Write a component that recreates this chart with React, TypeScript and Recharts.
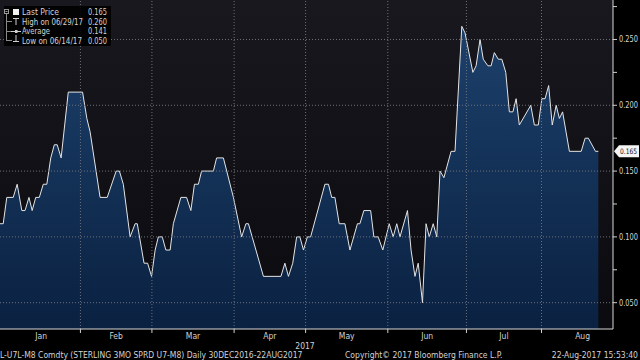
import React from 'react';
import { ComposedChart, Area, XAxis, YAxis, CartesianGrid, ReferenceLine } from 'recharts';

// trading-day index since 30 Dec 2016 (0) and the spread value at each vertex
const tradingDay = [
  0, 0.9, 1.9, 3.7, 4.8, 6.1, 7.0, 8.1, 9.0, 10.0, 11.0, 12.1, 13.1, 14.2, 15.2, 16.0, 17.1, 19.1, 23.1, 24.3,
  25.2, 28.0, 30.0, 32.5, 33.4, 34.5, 36.4, 37.8, 38.4, 40.3, 41.3, 42.4, 43.4, 44.3, 45.4, 46.4, 47.6, 48.5, 50.6, 52.2,
  53.4, 54.4, 55.5, 56.4, 59.7, 60.6, 62.5, 65.3, 67.6, 68.8, 69.5, 73.7, 78.6, 79.7, 80.7, 81.9, 83.0, 83.9, 84.9, 86.0,
  86.9, 90.9, 91.9, 92.8, 93.7, 94.9, 96.5, 97.9, 100.0, 100.7, 101.8, 103.7, 104.6, 105.8, 107.1, 108.9, 110.0, 111.0, 111.9, 114.0,
  115.0, 116.1, 117.0, 118.2, 119.2, 120.1, 121.2, 122.2, 123.1, 124.2, 126.2, 127.3, 129.2, 130.1, 132.3, 133.2, 134.3, 135.2, 136.5, 137.4,
  138.3, 139.4, 140.4, 141.5, 142.5, 143.5, 144.4, 145.3, 148.5, 149.5, 150.6, 151.6, 152.5, 153.5, 154.5, 155.6, 156.5, 157.4, 159.3, 162.6,
  163.7, 164.6, 166.6, 167.4,
];
const spread = [
  0.11, 0.11, 0.13, 0.13, 0.14, 0.12, 0.12, 0.13, 0.12, 0.13, 0.13, 0.14, 0.14, 0.16, 0.17, 0.17, 0.16, 0.21, 0.21, 0.19,
  0.18, 0.13, 0.13, 0.15, 0.15, 0.14, 0.10, 0.11, 0.11, 0.08, 0.08, 0.07, 0.09, 0.10, 0.10, 0.09, 0.09, 0.11, 0.13, 0.13,
  0.12, 0.14, 0.14, 0.15, 0.15, 0.16, 0.16, 0.13, 0.10, 0.11, 0.11, 0.07, 0.07, 0.08, 0.07, 0.08, 0.10, 0.10, 0.09, 0.10,
  0.10, 0.14, 0.14, 0.13, 0.13, 0.11, 0.11, 0.09, 0.11, 0.11, 0.12, 0.12, 0.10, 0.10, 0.09, 0.11, 0.10, 0.11, 0.10, 0.12,
  0.09, 0.07, 0.08, 0.05, 0.11, 0.10, 0.11, 0.10, 0.15, 0.145, 0.165, 0.165, 0.26, 0.255, 0.225, 0.23, 0.25, 0.235, 0.23, 0.23,
  0.24, 0.235, 0.235, 0.225, 0.195, 0.195, 0.205, 0.185, 0.20, 0.185, 0.185, 0.205, 0.205, 0.215, 0.185, 0.20, 0.19, 0.195, 0.165, 0.165,
  0.175, 0.175, 0.165, 0.165,
];

const monthBoundaries = [22.5, 42.5, 65.5, 85.5, 108.5, 130.5, 151.5];
const monthLabelPos = [11.5, 32.5, 54, 75.5, 97, 119.5, 141, 163];
const monthLabels = ['Jan', 'Feb', 'Mar', 'Apr', 'May', 'Jun', 'Jul', 'Aug'];
const yMajorTicks = [0.05, 0.1, 0.15, 0.2, 0.25];
const yMinorTicks = [0.075, 0.125, 0.175, 0.225, 0.275];
const lastPrice = 0.165;

const legendLabels = ['Last Price', 'High on 06/29/17', 'Average', 'Low on 06/14/17'];
const legendValues = ['0.165', '0.260', '0.141', '0.050'];
const legendLabelWidths = [37, 61, 28, 60];

const yearLabel = '2017';
const footerLeft = 'L-U7L-M8 Comdty (STERLING 3MO SPRD U7-M8)  Daily 30DEC2016-22AUG2017';
const footerMid = 'Copyright\u00A9 2017 Bloomberg Finance L.P.';
const footerRight = '22-Aug-2017 15:53:40';

const data = tradingDay.map((d, i) => ({ day: d, value: spread[i] }));
const xTicks = [...monthBoundaries, ...monthLabelPos];

const FONT = "'Liberation Sans Narrow','DejaVu Sans Condensed','Arial Narrow',sans-serif";
const TEXT = '#d2d2d2';
const NUM_W = 19;

const near = (a: number, b: number) => Math.abs(a - b) < 1e-6;

const YTick = (props: any) => {
  const { x, y, payload } = props;
  const v = payload.value as number;
  if (near(v, lastPrice)) {
    return (
      <g>
        <path d={`M${x + 1},${y} L${x + 6},${y - 6} L${x + 26},${y - 6} L${x + 26},${y + 6} L${x + 6},${y + 6} Z`} fill="#f4f4f4" />
        <text x={x + 7} y={y} dy="0.35em" fontSize={7.5} fontFamily={FONT} fill="#111" textLength={17} lengthAdjust="spacingAndGlyphs">
          {v.toFixed(3)}
        </text>
      </g>
    );
  }
  const major = yMajorTicks.some((t) => near(t, v));
  return (
    <g>
      <line x1={x} x2={x + 4} y1={y} y2={y} stroke="#cfcfcf" strokeWidth={1} />
      {major && (
        <text x={x + 6} y={y} dy="0.35em" fontSize={8.5} fontFamily={FONT} fill={TEXT} textLength={NUM_W} lengthAdjust="spacingAndGlyphs">
          {v.toFixed(3)}
        </text>
      )}
    </g>
  );
};

const XTick = (props: any) => {
  const { x, y, payload } = props;
  const v = payload.value as number;
  const bIdx = monthBoundaries.findIndex((b) => near(b, v));
  if (bIdx >= 0) {
    return <line x1={x} x2={x} y1={y} y2={y + 4} stroke="#cfcfcf" strokeWidth={1} />;
  }
  const lIdx = monthLabelPos.findIndex((p) => near(p, v));
  return (
    <text x={x} y={y + 10} textAnchor="middle" fontSize={8.5} fontFamily={FONT} fill={TEXT}>
      {lIdx >= 0 ? monthLabels[lIdx] : ''}
    </text>
  );
};

export default function App() {
  return (
    <div style={{ position: 'relative', width: 640, height: 360, background: '#000', overflow: 'hidden' }}>
      <style>{'body{margin:0;background:#000;}'}</style>
      <ComposedChart width={640} height={360} data={data} margin={{ top: 0, right: 0, bottom: 0, left: 0 }}>
        <defs>
          <linearGradient id="bgGrad" x1="0" y1="0" x2="0" y2="1">
            <stop offset="0%" stopColor="#19181e" />
            <stop offset="100%" stopColor="#0b0a0f" />
          </linearGradient>
          <linearGradient id="areaGrad" x1="0" y1="0" x2="0" y2="1">
            <stop offset="0%" stopColor="#1c406b" />
            <stop offset="100%" stopColor="#0a2141" />
          </linearGradient>
        </defs>
        <CartesianGrid horizontal={false} vertical={false} fill="url(#bgGrad)" stroke="none" />
        <XAxis
          dataKey="day"
          type="number"
          domain={[0, 171.5]}
          ticks={xTicks}
          interval={0}
          tick={<XTick />}
          tickLine={false}
          tickSize={0}
          tickMargin={0}
          axisLine={{ stroke: '#d8d8d8', strokeWidth: 1 }}
          height={31}
          allowDataOverflow
        />
        <YAxis
          orientation="right"
          type="number"
          domain={[0.03, 0.28]}
          ticks={[...yMajorTicks, ...yMinorTicks, lastPrice]}
          interval={0}
          tick={<YTick />}
          tickLine={false}
          tickSize={0}
          tickMargin={0}
          axisLine={{ stroke: '#d8d8d8', strokeWidth: 1 }}
          width={27}
          allowDataOverflow
        />
        <Area
          type="linear"
          dataKey="value"
          stroke="#e4e4e4"
          strokeWidth={1}
          fill="url(#areaGrad)"
          fillOpacity={1}
          isAnimationActive={false}
          dot={false}
          activeDot={false}
        />
        {yMajorTicks.map((t) => (
          <ReferenceLine key={`h${t}`} y={t} stroke="#707078" strokeDasharray="1 2" strokeWidth={1} />
        ))}
        {monthBoundaries.map((b) => (
          <ReferenceLine key={`v${b}`} x={b} stroke="#707078" strokeDasharray="1 2" strokeWidth={1} />
        ))}
      </ComposedChart>

      <svg width={640} height={360} style={{ position: 'absolute', left: 0, top: 0, pointerEvents: 'none' }}>
        {/* legend */}
        <rect x={4} y={6} width={107} height={40} fill="#000" fillOpacity={0.88} />
        <rect x={4.5} y={9.5} width={4} height={4} fill="none" stroke="#9a9a9a" strokeWidth={1} />
        <line x1={5.5} x2={7.5} y1={11.5} y2={11.5} stroke="#9a9a9a" />
        <line x1={6.5} x2={6.5} y1={14} y2={41} stroke="#8a8a8a" />
        <line x1={6.5} x2={12} y1={21.5} y2={21.5} stroke="#8a8a8a" />
        <line x1={6.5} x2={11} y1={31.5} y2={31.5} stroke="#8a8a8a" />
        <line x1={6.5} x2={12} y1={40.5} y2={40.5} stroke="#8a8a8a" />
        <rect x={13} y={9} width={6} height={6} fill="#f2f2f2" />
        <line x1={13} x2={19} y1={18.5} y2={18.5} stroke="#cfcfcf" />
        <line x1={16} x2={16} y1={18.5} y2={25} stroke="#cfcfcf" />
        <line x1={11} x2={21} y1={31.5} y2={31.5} stroke="#cfcfcf" />
        <rect x={15} y={30} width={2.5} height={3} fill="#cfcfcf" />
        <line x1={16} x2={16} y1={35} y2={41.5} stroke="#cfcfcf" />
        <line x1={13} x2={19} y1={41.5} y2={41.5} stroke="#cfcfcf" />
        {legendLabels.map((l, i) => (
          <text
            key={l}
            x={22}
            y={12.3 + i * 9.5}
            dy="0.35em"
            fontSize={8.5}
            fontFamily={FONT}
            fill={TEXT}
            textLength={legendLabelWidths[i]}
            lengthAdjust="spacingAndGlyphs"
          >
            {l}
          </text>
        ))}
        {legendValues.map((v, i) => (
          <text
            key={`lv${i}`}
            x={88}
            y={12.3 + i * 9.5}
            dy="0.35em"
            fontSize={8.5}
            fontFamily={FONT}
            fill={TEXT}
            textLength={NUM_W}
            lengthAdjust="spacingAndGlyphs"
          >
            {v}
          </text>
        ))}
        {/* year + footer */}
        <text x={305} y={346} dy="0.35em" textAnchor="middle" fontSize={8.5} fontFamily={FONT} fill={TEXT}>
          {yearLabel}
        </text>
        <text x={0} y={355.5} dy="0.35em" fontSize={8.5} fontFamily={FONT} fill={TEXT}>
          {footerLeft}
        </text>
        <text x={345} y={355.5} dy="0.35em" fontSize={8.5} fontFamily={FONT} fill={TEXT}>
          {footerMid}
        </text>
        <text x={638} y={355.5} dy="0.35em" textAnchor="end" fontSize={8.5} fontFamily={FONT} fill={TEXT}>
          {footerRight}
        </text>
      </svg>
    </div>
  );
}
